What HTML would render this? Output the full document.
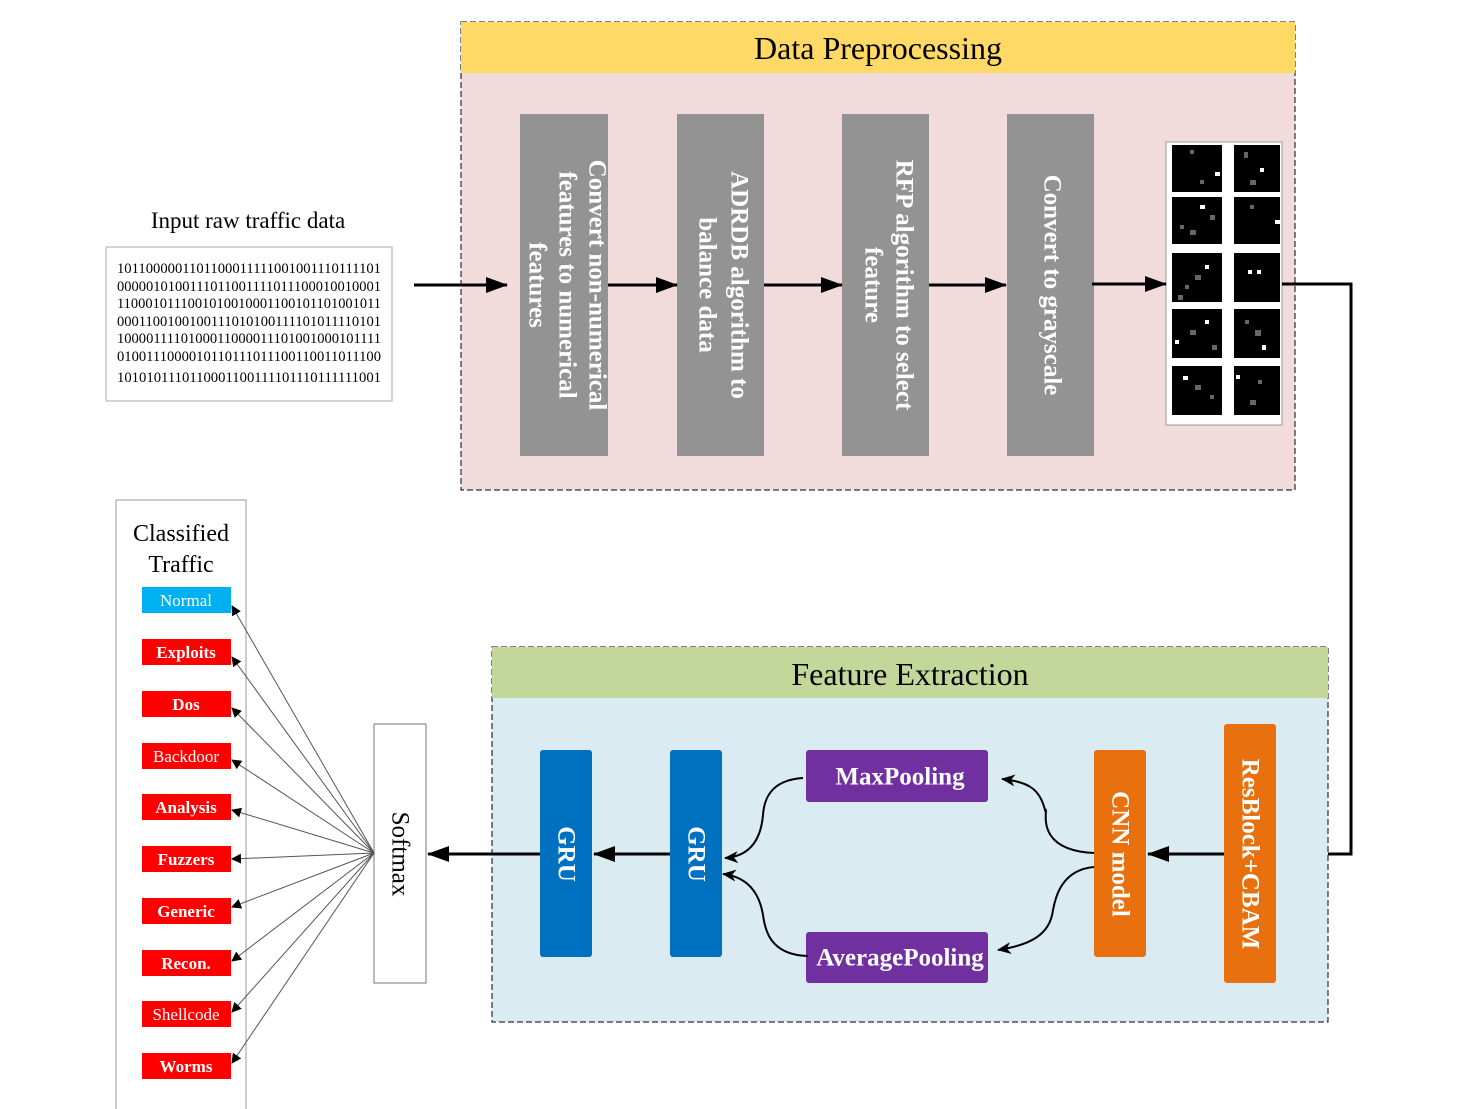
<!DOCTYPE html>
<html><head><meta charset="utf-8"><style>
html,body{margin:0;padding:0;background:#fff;}
svg{display:block;}
text{font-family:"Liberation Serif",serif;}
</style></head><body>
<svg width="1479" height="1109" viewBox="0 0 1479 1109" xmlns="http://www.w3.org/2000/svg">
<defs>
<marker id="ah" markerWidth="10" markerHeight="10" refX="9" refY="5" orient="auto" markerUnits="userSpaceOnUse"><path d="M0,0 L10,5 L0,10 z" fill="#000"/></marker>
<marker id="ab" markerWidth="22" markerHeight="16" refX="21" refY="8" orient="auto" markerUnits="userSpaceOnUse"><path d="M0,0 L22,8 L0,16 z" fill="#000"/></marker>
<marker id="ac" markerWidth="14" markerHeight="12" refX="13" refY="6" orient="auto" markerUnits="userSpaceOnUse"><path d="M0,0 L14,6 L0,12 L4,6 z" fill="#000"/></marker>
</defs>

<rect x="461" y="22" width="834" height="468" fill="#f2dcdb" stroke="#000" stroke-dasharray="6,3"/>
<rect x="461" y="22" width="834" height="51" fill="#ffd966"/>
<text x="878" y="59" font-size="32" text-anchor="middle">Data Preprocessing</text>

<g fill="#939393">
<rect x="520" y="114" width="88" height="342"/>
<rect x="677" y="114" width="87" height="342"/>
<rect x="842" y="114" width="87" height="342"/>
<rect x="1007" y="114" width="87" height="342"/>
</g>
<g fill="#fff" font-size="25" font-weight="bold" text-anchor="middle" dominant-baseline="central">
<text transform="translate(597,285) rotate(90)">Convert  non-numerical</text>
<text transform="translate(567,285) rotate(90)">features to numerical</text>
<text transform="translate(537,285) rotate(90)">features</text>
<text transform="translate(739,285) rotate(90)">ADRDB algorithm to</text>
<text transform="translate(707,285) rotate(90)">balance data</text>
<text transform="translate(904,285) rotate(90)">RFP algorithm to select</text>
<text transform="translate(873,285) rotate(90)">feature</text>
<text transform="translate(1052,285) rotate(90)">Convert to grayscale</text>
</g>

<rect x="1166" y="142" width="116" height="283" fill="#fff" stroke="#999"/>
<g fill="#000">
<rect x="1172" y="145" width="50" height="47"/><rect x="1234" y="145" width="46" height="47"/>
<rect x="1172" y="197" width="50" height="47"/><rect x="1234" y="197" width="46" height="47"/>
<rect x="1172" y="253" width="50" height="49"/><rect x="1234" y="253" width="46" height="49"/>
<rect x="1172" y="309" width="50" height="49"/><rect x="1234" y="309" width="46" height="49"/>
<rect x="1172" y="366" width="50" height="49"/><rect x="1234" y="366" width="46" height="49"/>
</g>
<g fill="#666">
<rect x="1190" y="150" width="4" height="4"/><rect x="1215" y="172" width="5" height="4" fill="#fff"/>
<rect x="1244" y="152" width="4" height="6"/><rect x="1260" y="168" width="4" height="4" fill="#fff"/>
<rect x="1250" y="180" width="6" height="5"/><rect x="1200" y="180" width="4" height="4"/>
<rect x="1200" y="205" width="5" height="4" fill="#fff"/><rect x="1180" y="225" width="4" height="4"/>
<rect x="1190" y="230" width="6" height="5"/><rect x="1210" y="215" width="5" height="5"/>
<rect x="1250" y="205" width="4" height="4"/><rect x="1275" y="220" width="5" height="4" fill="#fff"/>
<rect x="1205" y="265" width="4" height="4" fill="#fff"/><rect x="1185" y="285" width="4" height="4"/>
<rect x="1195" y="275" width="6" height="5"/><rect x="1178" y="295" width="5" height="5"/>
<rect x="1248" y="270" width="4" height="4" fill="#fff"/><rect x="1257" y="270" width="4" height="4" fill="#fff"/>
<rect x="1205" y="320" width="4" height="4" fill="#fff"/><rect x="1175" y="340" width="4" height="4" fill="#fff"/>
<rect x="1190" y="330" width="6" height="5"/><rect x="1212" y="345" width="5" height="5"/>
<rect x="1262" y="345" width="4" height="5" fill="#fff"/><rect x="1245" y="320" width="4" height="4"/>
<rect x="1255" y="330" width="6" height="6"/>
<rect x="1183" y="376" width="5" height="4" fill="#fff"/><rect x="1210" y="395" width="4" height="4"/>
<rect x="1195" y="385" width="6" height="5"/>
<rect x="1236" y="375" width="4" height="4" fill="#fff"/><rect x="1258" y="380" width="4" height="4"/>
<rect x="1250" y="400" width="6" height="5"/>
</g>

<text x="248" y="228" font-size="23" text-anchor="middle">Input raw traffic data</text>
<rect x="106" y="247" width="286" height="154" fill="#fff" stroke="#aaa"/>
<g font-size="14.5" text-anchor="middle">
<text x="249" y="273" textLength="264" lengthAdjust="spacingAndGlyphs">1011000001101100011111001001110111101</text>
<text x="249" y="291" textLength="264" lengthAdjust="spacingAndGlyphs">0000010100111011001111011100010010001</text>
<text x="249" y="308" textLength="264" lengthAdjust="spacingAndGlyphs">1100010111001010010001100101101001011</text>
<text x="249" y="326" textLength="264" lengthAdjust="spacingAndGlyphs">0001100100100111010100111101011110101</text>
<text x="249" y="343" textLength="264" lengthAdjust="spacingAndGlyphs">1000011110100011000011101001000101111</text>
<text x="249" y="361" textLength="264" lengthAdjust="spacingAndGlyphs">0100111000010110111011100110011011100</text>
<text x="249" y="382" textLength="264" lengthAdjust="spacingAndGlyphs">1010101110110001100111101110111111001</text>
</g>

<g stroke="#000" stroke-width="3" fill="none">
<line x1="414" y1="285" x2="507" y2="285" marker-end="url(#ab)"/>
<line x1="608" y1="285" x2="677" y2="285" marker-end="url(#ab)"/>
<line x1="764" y1="285" x2="842" y2="285" marker-end="url(#ab)"/>
<line x1="929" y1="285" x2="1006" y2="285" marker-end="url(#ab)"/>
<line x1="1092" y1="284" x2="1166" y2="284" marker-end="url(#ab)"/>
<polyline points="1282,284 1351,284 1351,854 1278,854" marker-end="url(#ab)"/>
</g>

<rect x="492" y="647" width="836" height="375" fill="#dbebf2" stroke="#000" stroke-dasharray="6,3"/>
<rect x="492" y="647" width="836" height="51" fill="#c4d79b"/>
<text x="910" y="685" font-size="32" text-anchor="middle">Feature Extraction</text>

<rect x="540" y="750" width="52" height="207" rx="3" fill="#0070c0"/>
<rect x="670" y="750" width="52" height="207" rx="3" fill="#0070c0"/>
<rect x="1094" y="750" width="52" height="207" rx="3" fill="#e8700f"/>
<rect x="1224" y="724" width="52" height="259" rx="3" fill="#e8700f"/>
<rect x="806" y="750" width="182" height="52" rx="3" fill="#7030a0"/>
<rect x="806" y="932" width="182" height="51" rx="3" fill="#7030a0"/>
<g fill="#fff" font-size="25" font-weight="bold" text-anchor="middle" dominant-baseline="central">
<text transform="translate(566,854) rotate(90)">GRU</text>
<text transform="translate(696,854) rotate(90)">GRU</text>
<text transform="translate(1120,854) rotate(90)">CNN model</text>
<text transform="translate(1250,854) rotate(90)">ResBlock+CBAM</text>
<text x="900" y="777">MaxPooling</text>
<text x="900" y="958">AveragePooling</text>
</g>

<g stroke="#000" stroke-width="3" fill="none">
<line x1="1224" y1="854" x2="1148" y2="854" marker-end="url(#ab)"/>
<line x1="670" y1="854" x2="594" y2="854" marker-end="url(#ab)"/>
<line x1="540" y1="854" x2="428" y2="854" marker-end="url(#ab)"/>
</g>
<g stroke="#000" stroke-width="2" fill="none">
<path d="M1094,853 C1030,850 1050,805 1045,810 C1040,790 1030,782 1002,779" marker-end="url(#ac)"/>
<path d="M1094,867 C1060,870 1055,900 1053,910 C1050,935 1030,945 998,950" marker-end="url(#ac)"/>
<path d="M803,778 C770,780 764,800 763,815 C760,850 740,857 725,858" marker-end="url(#ac)"/>
<path d="M808,956 C770,955 765,930 763,915 C758,885 740,876 723,874" marker-end="url(#ac)"/>
</g>

<rect x="374" y="724" width="52" height="259" fill="#fff" stroke="#777"/>
<text transform="translate(400,854) rotate(90)" font-size="25" text-anchor="middle" dominant-baseline="central">Softmax</text>

<rect x="116" y="500" width="130" height="620" fill="#fff" stroke="#999"/>
<text x="181" y="541" font-size="24" text-anchor="middle">Classified</text>
<text x="181" y="572" font-size="24" text-anchor="middle">Traffic</text>
<rect x="142" y="587" width="89" height="26" fill="#00b0f0"/>
<g fill="#ff0000">
<rect x="142" y="639" width="89" height="26"/><rect x="142" y="691" width="89" height="26"/>
<rect x="142" y="743" width="89" height="26"/><rect x="142" y="794" width="89" height="26"/>
<rect x="142" y="846" width="89" height="26"/><rect x="142" y="898" width="89" height="26"/>
<rect x="142" y="950" width="89" height="26"/><rect x="142" y="1001" width="89" height="26"/>
<rect x="142" y="1053" width="89" height="26"/>
</g>
<g fill="#fff" font-size="17" text-anchor="middle">
<text x="186" y="606">Normal</text>
<text x="186" y="658" font-weight="bold">Exploits</text>
<text x="186" y="710" font-weight="bold">Dos</text>
<text x="186" y="762">Backdoor</text>
<text x="186" y="813" font-weight="bold">Analysis</text>
<text x="186" y="865" font-weight="bold">Fuzzers</text>
<text x="186" y="917" font-weight="bold">Generic</text>
<text x="186" y="969" font-weight="bold">Recon.</text>
<text x="186" y="1020">Shellcode</text>
<text x="186" y="1072" font-weight="bold">Worms</text>
</g>
<g stroke="#555" stroke-width="1" fill="none">
<line x1="374" y1="853" x2="232" y2="606" marker-end="url(#ah)"/>
<line x1="374" y1="853" x2="232" y2="657" marker-end="url(#ah)"/>
<line x1="374" y1="853" x2="232" y2="708" marker-end="url(#ah)"/>
<line x1="374" y1="853" x2="232" y2="760" marker-end="url(#ah)"/>
<line x1="374" y1="853" x2="232" y2="810" marker-end="url(#ah)"/>
<line x1="374" y1="853" x2="232" y2="859" marker-end="url(#ah)"/>
<line x1="374" y1="853" x2="232" y2="907" marker-end="url(#ah)"/>
<line x1="374" y1="853" x2="232" y2="961" marker-end="url(#ah)"/>
<line x1="374" y1="853" x2="232" y2="1012" marker-end="url(#ah)"/>
<line x1="374" y1="853" x2="232" y2="1063" marker-end="url(#ah)"/>
</g>
</svg>
</body></html>
